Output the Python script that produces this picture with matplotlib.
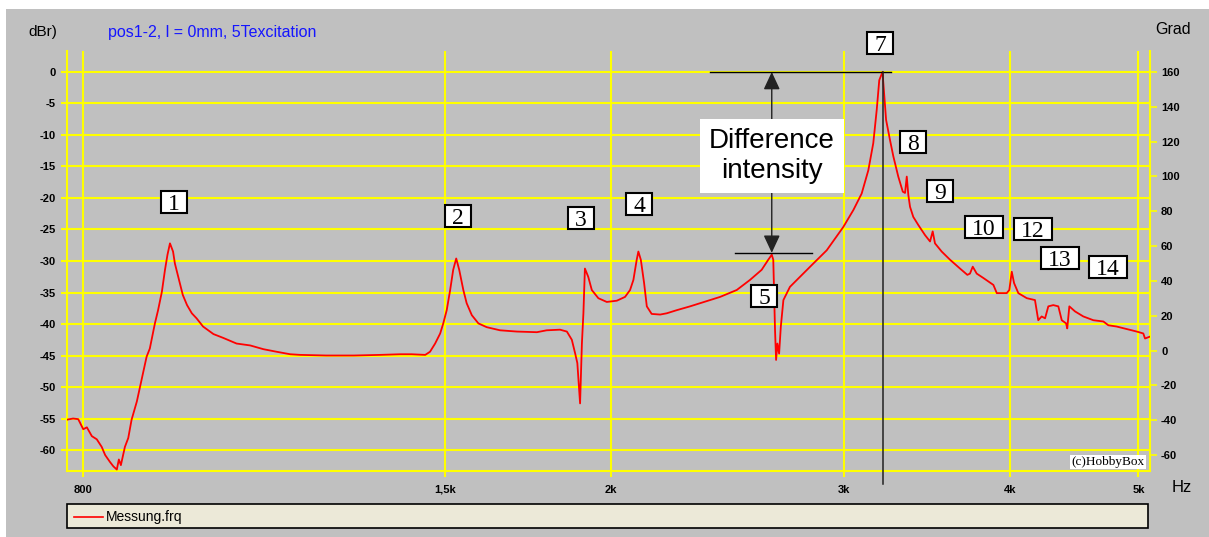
import matplotlib
matplotlib.use("Agg")
import matplotlib.pyplot as plt
from matplotlib.patches import Rectangle
from matplotlib.lines import Line2D
from matplotlib.ticker import NullLocator, FixedLocator
from matplotlib.transforms import ScaledTranslation

plt.rcParams['font.family'] = ['Liberation Sans', 'DejaVu Sans']
plt.rcParams['axes.unicode_minus'] = False

# Messung: Frequenzgang (Hz, dBr)
freq_hz = [777, 786, 793, 800, 805, 812, 819, 826, 831, 838, 843, 848, 851, 854,
           860, 865, 870, 878, 883, 893, 898, 906, 911, 917, 922, 926, 930, 935,
           938, 944, 951, 958, 966, 974, 985, 1003, 1020, 1044, 1069, 1094, 1119,
           1146, 1166, 1220, 1280, 1340, 1387, 1415, 1449, 1461, 1474, 1487, 1495,
           1504, 1513, 1521, 1529, 1537, 1548, 1557, 1571, 1589, 1612, 1650, 1699,
           1759, 1789, 1831, 1853, 1869, 1880, 1887, 1896, 1902, 1907, 1912, 1923,
           1935, 1957, 1986, 2021, 2050, 2068, 2080, 2092, 2098, 2107, 2119, 2129,
           2147, 2179, 2204, 2243, 2295, 2335, 2418, 2489, 2547, 2599, 2629, 2645,
           2652, 2656, 2660, 2665, 2671, 2679, 2687, 2699, 2730, 2778, 2843, 2910,
           2995, 3048, 3092, 3128, 3155, 3174, 3188, 3206, 3226, 3248, 3267, 3295,
           3321, 3334, 3344, 3353, 3363, 3382, 3412, 3452, 3482, 3498, 3512, 3553,
           3605, 3668, 3715, 3732, 3750, 3776, 3820, 3887, 3910, 3978, 3996, 4013,
           4029, 4059, 4119, 4178, 4202, 4227, 4252, 4276, 4313, 4351, 4377, 4410,
           4419, 4435, 4479, 4544, 4624, 4705, 4746, 4815, 4900, 4986, 5043, 5058,
           5102]
level_db = [-55.2, -55.0, -55.1, -56.7, -56.4, -57.8, -58.3, -59.5, -60.8, -61.9,
            -62.6, -63.1, -61.5, -62.4, -59.5, -58.1, -55.2, -52.3, -49.9, -45.2,
            -43.9, -39.9, -37.8, -34.9, -31.4, -29.0, -27.2, -28.5, -30.4, -32.7,
            -35.4, -37.0, -38.3, -39.1, -40.4, -41.6, -42.2, -43.1, -43.4, -44.0,
            -44.4, -44.8, -44.9, -45.0, -45.0, -44.9, -44.8, -44.8, -44.9, -44.4,
            -43.1, -41.5, -39.9, -37.8, -34.6, -31.4, -29.6, -31.4, -34.6, -36.7,
            -38.6, -39.9, -40.5, -41.0, -41.2, -41.3, -41.0, -40.9, -41.2, -42.5,
            -44.7, -46.2, -52.6, -43.1, -38.3, -31.2, -32.5, -34.6, -35.9, -36.5,
            -36.3, -35.7, -34.6, -33.0, -29.8, -28.5, -29.8, -33.5, -37.2, -38.4,
            -38.5, -38.3, -37.8, -37.2, -36.7, -35.7, -34.6, -33.0, -31.4, -29.8,
            -29.0, -29.8, -35.1, -40.9, -45.7, -43.1, -44.7, -40.4, -36.2, -34.1,
            -32.5, -30.4, -28.3, -24.6, -21.9, -19.3, -15.6, -11.3, -6.0, -1.3,
            0.0, -7.6, -10.8, -13.4, -16.6, -19.0, -19.2, -16.6, -19.5, -21.4,
            -23.0, -24.3, -25.9, -26.9, -25.3, -27.2, -28.5, -29.8, -31.2, -32.2,
            -32.0, -30.9, -32.0, -32.7, -33.8, -35.1, -35.1, -34.6, -31.7, -33.5,
            -35.1, -35.9, -36.2, -39.4, -38.8, -39.1, -37.2, -37.0, -37.2, -39.4,
            -39.9, -40.7, -37.2, -38.0, -38.8, -39.4, -39.6, -40.2, -40.4, -40.8,
            -41.2, -41.5, -42.3, -42.0]

x_ticks = [800, 1500, 2000, 3000, 4000, 5000]
x_tick_labels = ['800', '1,5k', '2k', '3k', '4k', '5k']
db_ticks = list(range(0, -61, -5))
grad_ticks = list(range(-60, 161, 20))

# Moden-Nummern und ihre Lage im Diagramm
mode_labels = ['1', '2', '3', '4', '5', '7', '8', '9', '10', '12', '13', '14']
mode_freq = [937, 1534, 1899, 2101, 2610, 3192, 3381, 3543, 3824, 4164, 4364, 4743]
mode_db = [-20.6, -22.9, -23.2, -21.0, -35.6, 4.6, -11.1, -18.9, -24.6, -24.9, -29.5, -31.0]

# Hauptresonanz und Vergleichsspitze fuer den Pegelunterschied
peak_hz, peak_db = 3206, 0.0
ref_hz, ref_db = 2645, -28.7

GREY = '#C0C0C0'
YELLOW = '#FFFF00'
RED = '#FF0000'

W, H = 1209, 537
fig = plt.figure(figsize=(W / 100, H / 100), dpi=100)
fig.patch.set_facecolor('white')
fig.add_artist(Rectangle((6 / W, 0), 1 - 6 / W, 1 - 9 / H, transform=fig.transFigure,
                         fc=GREY, ec='none', zorder=-10))

ax = fig.add_axes([66.7 / W, 1 - 471 / H, (1150 - 66.7) / W, (471 - 51) / H])
ax.set_facecolor(GREY)
ax.set_xscale('log')
ax.set_xlim(777.3, 5102)
ax.set_ylim(-63.33, 3.33)
ax.xaxis.set_major_locator(FixedLocator(x_ticks))
ax.xaxis.set_minor_locator(NullLocator())
ax.set_xticklabels(x_tick_labels)
ax.set_yticks(db_ticks)
ax.grid(True, color=YELLOW, lw=1.5, zorder=1)
ax.set_axisbelow(True)
for side in ['left', 'bottom', 'right']:
    ax.spines[side].set_color(YELLOW)
    ax.spines[side].set_linewidth(1.5)
ax.spines['top'].set_visible(False)
ax.tick_params(axis='both', direction='out', length=4, width=1.5, color=YELLOW,
               labelsize=8, labelcolor='black')
ax.tick_params(axis='y', pad=4)
ax.tick_params(axis='x', pad=6)
for lbl in ax.get_xticklabels() + ax.get_yticklabels():
    lbl.set_fontweight('bold')

ax2 = ax.twinx()
ax2.set_ylim(-69.2, 172.1)
ax2.set_yticks(grad_ticks)
for s in ax2.spines.values():
    s.set_visible(False)
ax2.tick_params(axis='y', direction='out', length=5, width=1.2, color=YELLOW,
                labelsize=8, labelcolor='black', pad=3)
for lbl in ax2.get_yticklabels():
    lbl.set_fontweight('bold')

ax.plot(freq_hz, level_db, color=RED, lw=1.3, zorder=3)

# Pegelunterschied zwischen Spitze 7 und Spitze 5
ax.plot([2376, 3253], [peak_db, peak_db], color='black', lw=1, zorder=4)
ax.plot([2482, 2835], [ref_db, ref_db], color='black', lw=1, zorder=4)
ax.annotate('', xy=(ref_hz, peak_db), xytext=(ref_hz, ref_db),
            arrowprops=dict(arrowstyle='<|-|>,head_length=0.9,head_width=0.42',
                            mutation_scale=12, color='#222222', lw=1,
                            shrinkA=0, shrinkB=0), zorder=4)
ax.text(ref_hz, -13.3, 'Difference\nintensity', ha='center', va='center', fontsize=20,
        bbox=dict(boxstyle='square,pad=0.33', fc='white', ec='none'), zorder=6)
ax.plot([peak_hz, peak_hz], [peak_db, -65.4], color='#222222', lw=1.1, zorder=4,
        clip_on=False)

# nummerierte Kaestchen, Groesse in Pixeln um den Datenpunkt
for lab, f, d in zip(mode_labels, mode_freq, mode_db):
    bw = (14 + 12 * len(lab)) / 100
    bh = 22 / 100
    at_point = fig.dpi_scale_trans + ScaledTranslation(f, d, ax.transData)
    ax.add_artist(Rectangle((-bw / 2, -bh / 2), bw, bh, transform=at_point,
                            fc='white', ec='black', lw=1.5, zorder=7, clip_on=False))
    ax.text(f, d, lab, ha='center', va='center_baseline', fontsize=17,
            family='Liberation Serif', zorder=8, clip_on=False)

fig.text(1108 / W, 1 - 462 / H, '(c)HobbyBox', ha='center', va='center',
         family='Liberation Serif', fontsize=9.5,
         bbox=dict(boxstyle='square,pad=0.1', fc='white', ec='none'))

fig.text(28 / W, 1 - 32 / H, 'dBr)', fontsize=11, va='center', ha='left')
fig.text(108 / W, 1 - 32 / H, 'pos1-2, l = 0mm, 5Texcitation', color='#1515FF',
         fontsize=11.5, va='center', ha='left')
fig.text(1155 / W, 1 - 30 / H, 'Grad', fontsize=11.5, va='center', ha='left')
fig.text(1172 / W, 1 - 487 / H, 'Hz', fontsize=12, va='center', ha='left')

# Legendenleiste
fig.add_artist(Rectangle((67 / W, 1 - 528 / H), (1148 - 67) / W, 24 / H,
                         transform=fig.transFigure, fc='#ECE9D8', ec='black', lw=1.2))
fig.add_artist(Line2D([74 / W, 103 / W], [1 - 517 / H, 1 - 517 / H],
                      transform=fig.transFigure, color=RED, lw=1.2))
fig.text(106 / W, 1 - 517 / H, 'Messung.frq', fontsize=10, va='center', ha='left')

fig.savefig('out.png', dpi=100, facecolor=fig.get_facecolor())
